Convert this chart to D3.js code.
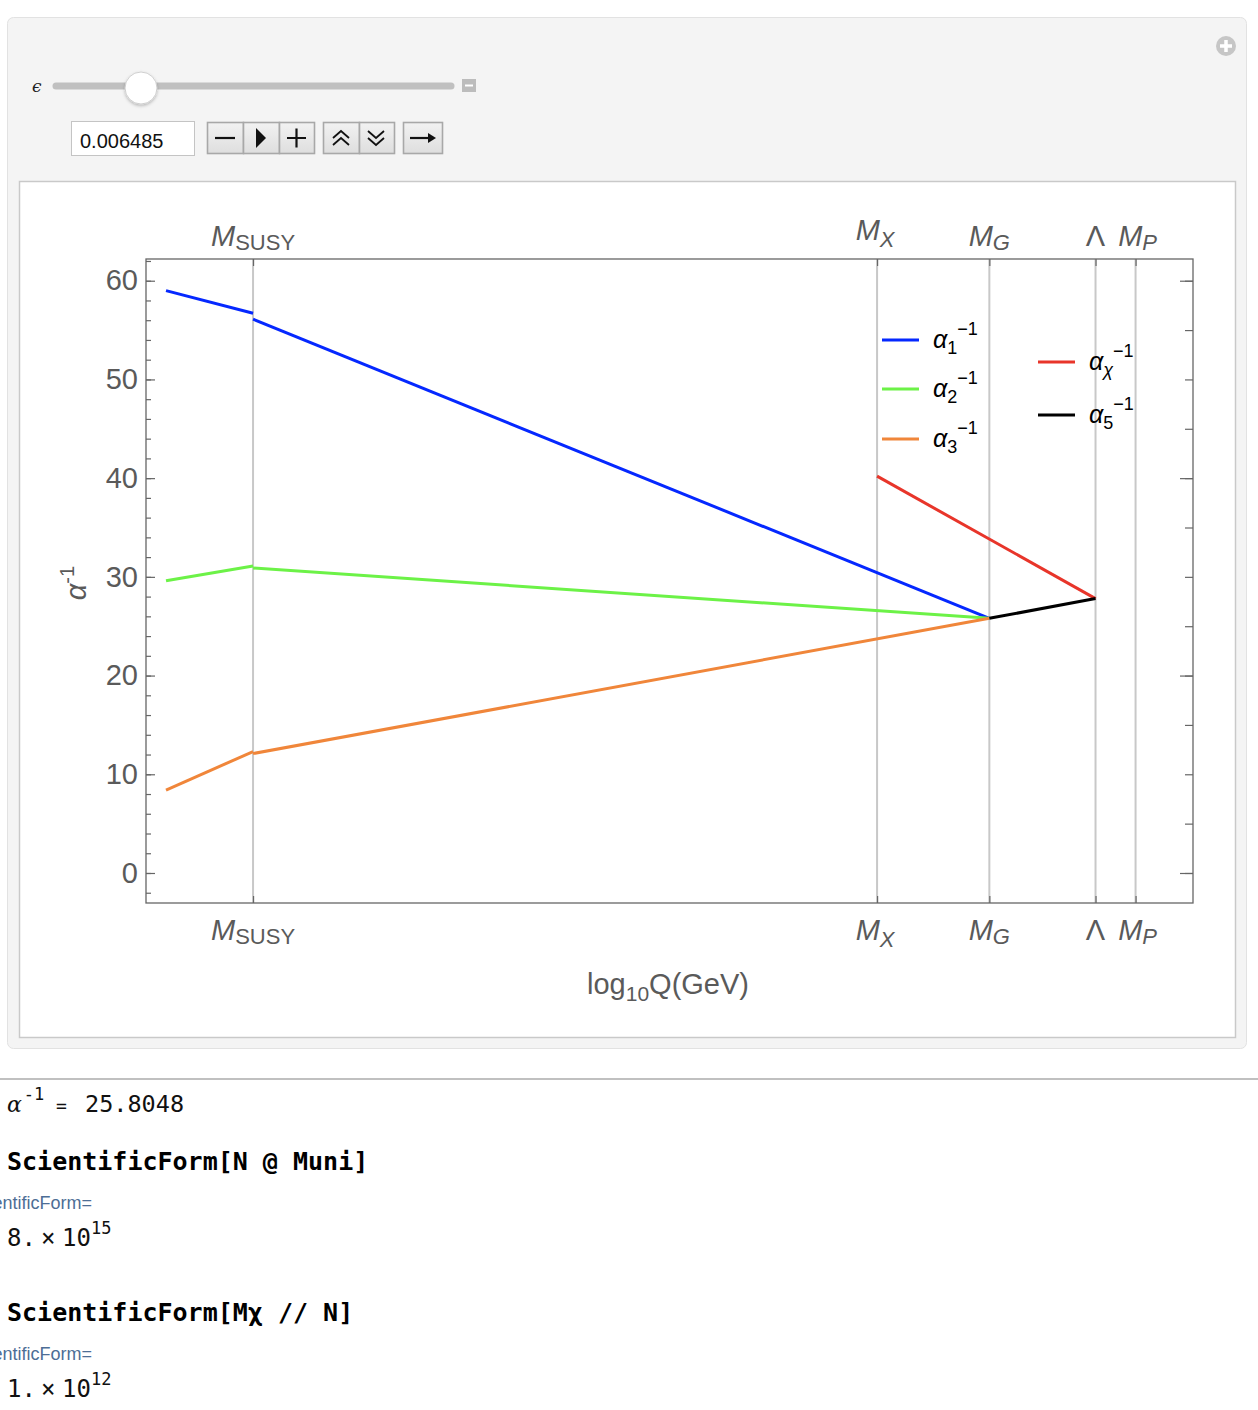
<!DOCTYPE html>
<html>
<head>
<meta charset="utf-8">
<script src="https://cdn.jsdelivr.net/npm/d3@7"></script>
<style>
  body { margin: 0; background: #fff; }
  svg { display: block; }
</style>
</head>
<body>
<div id="page"></div>
<script>
// scale positions on the log10 Q axis
var scaleNames = ["MSUSY", "MX", "MG", "Lambda", "MP"];
var scaleVals = [3.0, 10.17, 11.46, 12.68, 13.14];
var logMZ = 2.0;

// inverse couplings at the segment end points
var alpha1Low = [59.0, 56.7];   // at MZ, MSUSY
var alpha1High = [56.1, 25.8];  // at MSUSY, MG
var alpha2Low = [29.6, 31.1];
var alpha2High = [30.9, 25.8];
var alpha3Low = [8.4, 12.3];
var alpha3High = [12.1, 25.8];
var alphaChi = [40.2, 27.8];    // at MX, Lambda
var alpha5 = [25.8, 27.8];      // at MG, Lambda

var yMajor = [0, 10, 20, 30, 40, 50, 60];
var yMinor = d3.range(-2, 63, 2);
var yRightMajor = [0, 20, 40, 60];
var yRightMinor = d3.range(0, 61, 5);

var W = 1258, H = 1410;
var svg = d3.select("#page").append("svg").attr("width", W).attr("height", H);

// ---------- manipulate panel ----------
var defs = svg.append("defs");
var sh = defs.append("filter").attr("id", "shadow").attr("x", "-50%").attr("y", "-50%").attr("width", "200%").attr("height", "200%");
sh.append("feDropShadow").attr("dx", 0).attr("dy", 1.5).attr("stdDeviation", 1.5).attr("flood-color", "#000").attr("flood-opacity", 0.25);
var grad = defs.append("linearGradient").attr("id", "btn").attr("x1", 0).attr("y1", 0).attr("x2", 0).attr("y2", 1);
grad.append("stop").attr("offset", "0%").attr("stop-color", "#f2f2f2");
grad.append("stop").attr("offset", "100%").attr("stop-color", "#dedede");

svg.append("rect").attr("x", 7.5).attr("y", 17.5).attr("width", 1239).attr("height", 1031).attr("rx", 6)
    .attr("fill", "#f4f4f4").attr("stroke", "#e2e2e2");

// plus icon
svg.append("circle").attr("cx", 1226).attr("cy", 46).attr("r", 10).attr("fill", "#c6c6c6");
svg.append("path").attr("d", "M1220,46H1232M1226,40V52").attr("stroke", "#fff").attr("stroke-width", 3.5);

// slider
svg.append("text").attr("x", 32).attr("y", 92).text("ϵ")
    .style("font-family", "DejaVu Serif").style("font-style", "italic").style("font-size", "17px").attr("fill", "#222");
svg.append("line").attr("x1", 56).attr("x2", 451).attr("y1", 86).attr("y2", 86)
    .attr("stroke", "#c0c0c0").attr("stroke-width", 7).attr("stroke-linecap", "round");
svg.append("circle").attr("cx", 141).attr("cy", 88).attr("r", 16).attr("fill", "#fff")
    .attr("stroke", "#cfcfcf").attr("filter", "url(#shadow)");
svg.append("rect").attr("x", 462).attr("y", 79).attr("width", 14).attr("height", 13).attr("fill", "#bcbcbc");
svg.append("line").attr("x1", 465).attr("x2", 473).attr("y1", 85.5).attr("y2", 85.5).attr("stroke", "#fff").attr("stroke-width", 2);

// value box
svg.append("rect").attr("x", 71.5).attr("y", 121.5).attr("width", 123).attr("height", 34)
    .attr("fill", "#fff").attr("stroke", "#c4c4c4");
svg.append("text").attr("x", 80).attr("y", 147.5).text("0.006485")
    .style("font-family", "Liberation Sans, Arial").style("font-size", "20px").attr("fill", "#111");

// buttons
var buttons = [
  {x: 207, w: 36}, {x: 243, w: 36}, {x: 279, w: 35},
  {x: 323, w: 36}, {x: 359, w: 35},
  {x: 403, w: 39}
];
buttons.forEach(function(b) {
  svg.append("rect").attr("x", b.x + 0.5).attr("y", 122.5).attr("width", b.w).attr("height", 31)
      .attr("fill", "url(#btn)").attr("stroke", "#a8a8a8").attr("stroke-width", 1.6);
});
var g = svg.append("g").attr("stroke", "#111").attr("fill", "none").attr("stroke-width", 2.2);
g.append("path").attr("d", "M215,138H235");
svg.append("path").attr("d", "M256,128L266,138L256,148Z").attr("fill", "#111");
g.append("path").attr("d", "M287,138H306M296.5,128.5V147.5");
g.append("path").attr("d", "M333,138L341,131L349,138M333,145L341,138L349,145").attr("stroke-width", 1.8);
g.append("path").attr("d", "M368,131L376,138L384,131M368,138L376,145L384,138").attr("stroke-width", 1.8);
g.append("path").attr("d", "M410,138H432");
svg.append("path").attr("d", "M428,133L436,138L428,143Z").attr("fill", "#111");

// plot box
svg.append("rect").attr("x", 19.5).attr("y", 181.5).attr("width", 1216).attr("height", 856)
    .attr("fill", "#fff").attr("stroke", "#c9c9c9").attr("stroke-width", 1.5);

// ---------- chart ----------
var pLeft = 146, pRight = 1193, pTop = 259, pBottom = 903;
var x = d3.scaleLinear().domain([1.77, 13.80]).range([pLeft, pRight]);
var y = d3.scaleLinear().domain([-3.04, 62.2]).range([pBottom, pTop]);
var labelColor = "#5a5a5a";
var sans = "Liberation Sans, Arial, Helvetica";

// vertical lines at the mass scales
svg.append("g").selectAll("line").data(scaleVals).join("line")
    .attr("x1", d => x(d)).attr("x2", d => x(d)).attr("y1", pTop).attr("y2", pBottom)
    .attr("stroke", "#c8c8c8").attr("stroke-width", 2);

// axes
function styleAxis(sel) {
  sel.select(".domain").remove();
  sel.selectAll(".tick line").attr("stroke", "#666").attr("stroke-width", 1.2);
  sel.selectAll(".tick text").style("font-family", sans).style("font-size", "29px").attr("fill", labelColor);
}
svg.append("g").attr("transform", `translate(${pLeft},0)`)
    .call(d3.axisLeft(y).tickValues(yMinor).tickSize(-5).tickFormat("")).call(styleAxis);
svg.append("g").attr("transform", `translate(${pLeft},0)`)
    .call(d3.axisLeft(y).tickValues(yMajor).tickSize(-9).tickPadding(8).tickFormat(d3.format("d"))).call(styleAxis);
svg.append("g").attr("transform", `translate(${pRight},0)`)
    .call(d3.axisRight(y).tickValues(yRightMinor).tickSize(-8).tickFormat("")).call(styleAxis);
svg.append("g").attr("transform", `translate(${pRight},0)`)
    .call(d3.axisRight(y).tickValues(yRightMajor).tickSize(-13).tickFormat("")).call(styleAxis);
svg.append("g").attr("transform", `translate(0,${pTop})`)
    .call(d3.axisTop(x).tickValues(scaleVals).tickSize(-7).tickFormat("")).call(styleAxis);
svg.append("g").attr("transform", `translate(0,${pBottom})`)
    .call(d3.axisBottom(x).tickValues(scaleVals).tickSize(-7).tickFormat("")).call(styleAxis);

// frame
svg.append("rect").attr("x", pLeft).attr("y", pTop).attr("width", pRight - pLeft).attr("height", pBottom - pTop)
    .attr("fill", "none").attr("stroke", "#666").attr("stroke-width", 1.3);

// scale labels
function massLabel(px, baseline, name) {
  var t = svg.append("text").attr("x", px).attr("y", baseline).attr("text-anchor", "middle")
      .style("font-family", sans).style("font-size", "29px").attr("fill", labelColor);
  if (name === "Lambda") { t.text("Λ"); return; }
  t.append("tspan").style("font-style", "italic").text("M");
  var sub = {MSUSY: "SUSY", MX: "X", MG: "G", MP: "P"}[name];
  t.append("tspan").attr("dy", name === "MX" ? 7 : 4).style("font-size", "22px")
      .style("font-style", name === "MSUSY" ? "normal" : "italic").text(sub);
}
var labelDx = [0, -2, 0, 0, 2];
scaleNames.forEach(function(n, i) {
  massLabel(x(scaleVals[i]) + labelDx[i], n === "MX" ? 240 : 246, n);
  massLabel(x(scaleVals[i]) + labelDx[i], 940, n);
});

// axis titles
var xt = svg.append("text").attr("x", 668).attr("y", 994).attr("text-anchor", "middle")
    .style("font-family", sans).style("font-size", "29px").attr("fill", labelColor);
xt.append("tspan").text("log");
xt.append("tspan").attr("dy", 7).style("font-size", "21px").text("10");
xt.append("tspan").attr("dy", -7).text("Q(GeV)");
var yt = svg.append("text").attr("transform", "translate(86,583) rotate(-90)").attr("text-anchor", "middle")
    .style("font-family", sans).style("font-size", "29px").attr("fill", labelColor);
yt.append("tspan").style("font-style", "italic").text("α");
yt.append("tspan").attr("dy", -12).style("font-size", "20px").text("-1");

// curves
var line = d3.line().x(d => x(d[0])).y(d => y(d[1]));
var curves = [
  {pts: [[logMZ, alpha1Low[0]], [scaleVals[0], alpha1Low[1]]], c: "#0528ff"},
  {pts: [[scaleVals[0], alpha1High[0]], [scaleVals[2], alpha1High[1]]], c: "#0528ff"},
  {pts: [[logMZ, alpha2Low[0]], [scaleVals[0], alpha2Low[1]]], c: "#6cf247"},
  {pts: [[scaleVals[0], alpha2High[0]], [scaleVals[2], alpha2High[1]]], c: "#6cf247"},
  {pts: [[logMZ, alpha3Low[0]], [scaleVals[0], alpha3Low[1]]], c: "#f0863a"},
  {pts: [[scaleVals[0], alpha3High[0]], [scaleVals[2], alpha3High[1]]], c: "#f0863a"},
  {pts: [[scaleVals[1], alphaChi[0]], [scaleVals[3], alphaChi[1]]], c: "#e8352a"},
  {pts: [[scaleVals[2], alpha5[0]], [scaleVals[3], alpha5[1]]], c: "#000"}
];
svg.append("g").selectAll("path").data(curves).join("path")
    .attr("d", d => line(d.pts)).attr("fill", "none").attr("stroke", d => d.c).attr("stroke-width", 3);

// legend
var legend = [
  {x: 882, y: 340, c: "#0528ff", sub: "1"},
  {x: 882, y: 389, c: "#6cf247", sub: "2"},
  {x: 882, y: 439, c: "#f0863a", sub: "3"},
  {x: 1038, y: 362, c: "#e8352a", sub: "χ"},
  {x: 1038, y: 415, c: "#000", sub: "5"}
];
legend.forEach(function(l) {
  svg.append("line").attr("x1", l.x).attr("x2", l.x + 37).attr("y1", l.y).attr("y2", l.y)
      .attr("stroke", l.c).attr("stroke-width", 3);
  var t = svg.append("text").attr("x", l.x + 51).attr("y", l.y + 8)
      .style("font-family", sans).style("font-size", "25px").attr("fill", "#000");
  t.append("tspan").style("font-style", "italic").text("α");
  t.append("tspan").attr("dy", 6).style("font-size", "18px").style("font-style", l.sub === "χ" ? "italic" : "normal").text(l.sub);
  t.append("tspan").attr("dy", -19).style("font-size", "18px").text("−1");
});

// ---------- notebook output below ----------
svg.append("line").attr("x1", 0).attr("x2", W).attr("y1", 1079).attr("y2", 1079).attr("stroke", "#c0c0c0").attr("stroke-width", 2);
var mono = "DejaVu Sans Mono, monospace";
var a = svg.append("text").attr("x", 7).attr("y", 1112).attr("fill", "#111");
a.append("tspan").style("font-family", "DejaVu Serif").style("font-style", "italic").style("font-size", "22px").text("α");
a.append("tspan").attr("dx", 2).attr("dy", -12).style("font-family", mono).style("font-size", "17px").text("-1");
svg.append("text").attr("x", 56).attr("y", 1112).text("=").style("font-family", mono).style("font-size", "18px").attr("fill", "#111");
svg.append("text").attr("x", 85).attr("y", 1112).text("25.8048").style("font-family", mono).style("font-size", "23.5px").attr("fill", "#111");

var inputs = [{y: 1170, s: "ScientificForm[N @ Muni]"}, {y: 1321, s: "ScientificForm[Mχ // N]"}];
inputs.forEach(function(d) {
  svg.append("text").attr("x", 7).attr("y", d.y).text(d.s)
      .style("font-family", mono).style("font-weight", "bold").style("font-size", "25px").attr("fill", "#000");
});
[1209, 1360].forEach(function(yy) {
  svg.append("text").attr("x", 92).attr("y", yy).attr("text-anchor", "end").text("ScientificForm=")
      .style("font-family", sans).style("font-size", "18px").attr("fill", "#4d6e96");
});
var outputs = [{y: 1246, m: "8.", e: "15"}, {y: 1397, m: "1.", e: "12"}];
outputs.forEach(function(d) {
  var t = svg.append("text").attr("x", 7).attr("y", d.y).style("font-family", mono).style("font-size", "24px").attr("fill", "#111");
  t.append("tspan").text(d.m);
  t.append("tspan").attr("x", 41).style("font-size", "24px").text("×");
  t.append("tspan").attr("x", 62).text("10");
  t.append("tspan").attr("dy", -12).style("font-size", "17px").text(d.e);
});
</script>
</body>
</html>
